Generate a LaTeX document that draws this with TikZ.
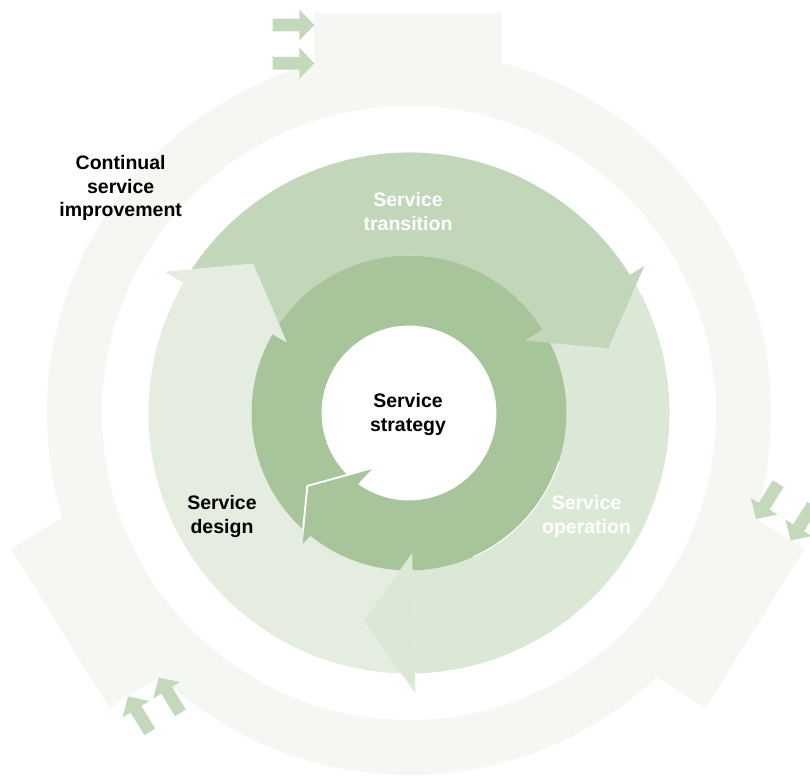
\documentclass[tikz,border=0pt]{standalone}
\usepackage{fontspec}
\setmainfont{Liberation Sans}
\definecolor{outerc}{RGB}{245,248,242}
\definecolor{designc}{RGB}{228,237,224}
\definecolor{transc}{RGB}{194,214,186}
\definecolor{operc}{RGB}{220,232,214}
\definecolor{darkc}{RGB}{168,196,155}
\definecolor{arrc}{RGB}{196,217,188}
\newcommand{\tabarrow}[2]{\fill[smallarr] (#1,#2) -- ++(-15,15.7) -- ++(0,-9.35) -- ++(-26.6,0) -- ++(0,-12.7) -- ++(26.6,0) -- ++(0,-9.35) -- cycle;}
\begin{document}
\begin{tikzpicture}[x=1pt,y=1pt,
  lbl/.style={font=\fontsize{19.5}{23.4}\selectfont\bfseries, align=center, inner sep=0pt},
  smallarr/.style={fill=arrc},
  tabfill/.style={fill=outerc}]
\useasboundingbox (-409,-363) rectangle (401,413);

% outer ring: continual service improvement
\fill[outerc, even odd rule] (0,0) circle[radius=362] (0,0) circle[radius=307];
% top tab
\fill[tabfill] (-94.7,318) -- (92.7,318) -- (92.7,400.3) -- (-94.7,400.3) -- cycle;
\tabarrow{-94.7}{388}
\tabarrow{-94.7}{349.7}
% right tab
\begin{scope}[rotate=-121.9]
  \fill[tabfill] (-93.5,318) -- (93.5,318) -- (93.5,407.5) -- (-93.5,407.5) -- cycle;
  \tabarrow{-93.5}{391.5}
  \tabarrow{-93.5}{350.8}
\end{scope}
% left tab
\begin{scope}[rotate=121.7]
  \fill[tabfill] (-93.5,318) -- (93.5,318) -- (93.5,410) -- (-93.5,410) -- cycle;
  \tabarrow{-93.5}{388}
  \tabarrow{-93.5}{352}
\end{scope}

% middle ring bodies
\fill[operc] (32:260.5) arc[start angle=32,end angle=-88.7,radius=260.5] -- (-88.7:157.5) arc[start angle=-88.7,end angle=32,radius=157.5] -- cycle;
\fill[transc] (150:260.5) arc[start angle=150,end angle=32,radius=260.5] -- (32:157.5) arc[start angle=32,end angle=150,radius=157.5] -- cycle;
\fill[designc] (271.3:260.5) arc[start angle=271.3,end angle=150,radius=260.5] -- (150:157.5) arc[start angle=150,end angle=271.3,radius=157.5] -- cycle;

% dark ring: service strategy
\fill[darkc, even odd rule] (0,0) circle[radius=157.5] (0,0) circle[radius=87.5];
\draw[white, line width=1pt] (-66:157.5) arc[start angle=-66,end angle=-18,radius=157.5];

% middle ring heads
\fill[designc] (150:141) -- (136.2:216) -- (150:282.5) -- cycle;
\fill[transc] (32:136.5) -- (18:209.5) -- (32:277.5) -- cycle;
\fill[operc] (-88.7:140) -- (-102.2:213) -- (-88.7:280) -- cycle;

% dark head with white gap
\begin{scope}
  \clip (0,0) circle[radius=157.5];
  \draw[white, line width=4pt, line join=miter] (-37.3,-56.3) -- (-100.7,-73.7) -- (-106.3,-131);
\end{scope}
\fill[darkc] (-37.3,-56.3) -- (-100.7,-73.7) -- (-106.3,-131) -- cycle;

% labels
\node[lbl] (csi) at (-288.3,224.5) {Continual\strut\\service\strut\\improvement\strut};
\node[lbl, text=white] (trans) at (-1,199) {Service\strut\\transition\strut};
\node[lbl] (strat) at (-1,-2) {Service\strut\\strategy\strut};
\node[lbl] (design) at (-187,-104) {Service\strut\\design\strut};
\node[lbl, text=white] (oper) at (177.5,-104) {Service\strut\\operation\strut};
\end{tikzpicture}
\end{document}
